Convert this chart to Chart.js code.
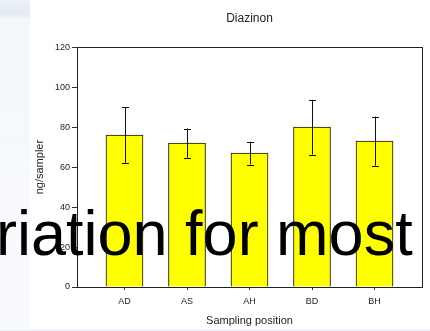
<!DOCTYPE html>
<html>
<head>
<meta charset="utf-8">
<script src="https://cdn.jsdelivr.net/npm/chart.js@4.4.1/dist/chart.umd.min.js"></script>
<style>
  html, body { margin: 0; padding: 0; background: #ffffff; }
  #wrap { position: relative; width: 430px; height: 331px; overflow: hidden; background: #ffffff; }
  #strip { position: absolute; left: 0; top: 0; width: 30px; height: 331px;
           background: linear-gradient(to bottom, #f3f7fc 0%, #f7f9fd 60%, #f9fafd 100%); }
  #swoosh { position: absolute; left: 0; top: 0; width: 30px; height: 18px;
            background: linear-gradient(to bottom, #eef2f7 0%, #e3eaf2 70%, #eef3f8 100%); }
  #bottomline { position: absolute; left: 0; top: 329px; width: 430px; height: 2px; background: #f0f3f7; }
  canvas { position: absolute; left: 0; top: 0; }
  #overlay { position: absolute; left: -4px; top: 0; height: 331px; pointer-events: none;
             font-family: "Liberation Sans", Arial, sans-serif; font-size: 63px; color: #000;
             white-space: nowrap; line-height: 1; }
  #overlay span { position: absolute; left: 0; top: 202px; }
</style>
</head>
<body>
<div id="wrap">
  <div id="strip"></div>
  <div id="swoosh"></div>
  <div id="bottomline"></div>
  <canvas id="c" width="430" height="331"></canvas>
  <div id="overlay"><span>riation for most</span></div>
</div>
<script>
const categories = ['AD', 'AS', 'AH', 'BD', 'BH'];
const means = [76, 72, 67, 80, 73];
const errors = [14, 7.3, 5.7, 13.7, 12.3];
const yTicks = [0, 20, 40, 60, 80, 100, 120];

const FONT = '"Liberation Sans", Arial, sans-serif';

const frame = {
  id: 'frame',
  afterDatasetsDraw(chart) {
    const {ctx, chartArea: a, scales: {x, y}} = chart;
    ctx.save();
    ctx.strokeStyle = '#111';
    ctx.lineWidth = 1;
    means.forEach((m, i) => {
      const px = Math.round(x.getPixelForValue(i)) + 0.5;
      const top = y.getPixelForValue(m + errors[i]);
      const bot = y.getPixelForValue(m - errors[i]);
      ctx.beginPath();
      ctx.moveTo(px, top); ctx.lineTo(px, bot);
      ctx.moveTo(px - 3.5, Math.round(top) + 0.5); ctx.lineTo(px + 3.5, Math.round(top) + 0.5);
      ctx.moveTo(px - 3.5, Math.round(bot) + 0.5); ctx.lineTo(px + 3.5, Math.round(bot) + 0.5);
      ctx.stroke();
    });
    ctx.strokeStyle = '#222';
    ctx.strokeRect(Math.round(a.left) + 0.5, Math.round(a.top) + 0.5,
                   Math.round(a.right - a.left), Math.round(a.bottom - a.top));
    ctx.restore();
  }
};

new Chart(document.getElementById('c'), {
  type: 'bar',
  data: {
    datasets: [{
      data: means.map((v, i) => ({x: i, y: v})),
      backgroundColor: '#ffff00',
      borderColor: '#111',
      borderWidth: 1,
      barThickness: 37
    }]
  },
  options: {
    responsive: false,
    animation: false,
    layout: { padding: { left: 0, right: 8, top: 0, bottom: 0 } },
    plugins: {
      legend: { display: false },
      tooltip: { enabled: false },
      title: {
        display: true,
        fullSize: false,
        text: 'Diazinon',
        color: '#222',
        font: { family: FONT, size: 12, weight: 'normal' },
        padding: { top: 11.5, bottom: 21.3 }
      }
    },
    scales: {
      x: {
        type: 'linear',
        offset: false,
        min: -0.76,
        max: 4.76,
        afterBuildTicks: s => { s.ticks = categories.map((_, i) => ({value: i})); },
        afterFit: s => { s.height = 44; },
        ticks: {
          callback: v => categories[v] ?? '',
          color: '#222',
          font: { family: FONT, size: 9 },
          padding: 6,
          maxRotation: 0,
          autoSkip: false
        },
        grid: { offset: false, drawOnChartArea: false, drawTicks: true, tickLength: 3, color: '#333' },
        border: { display: true, color: '#111' },
        title: {
          display: true,
          text: 'Sampling position',
          color: '#222',
          font: { family: FONT, size: 11 },
          padding: { top: 6, bottom: 3 }
        }
      },
      y: {
        min: 0,
        max: 120,
        afterBuildTicks: s => { s.ticks = yTicks.map(v => ({value: v})); },
        afterFit: s => { s.width = 77; },
        ticks: {
          color: '#222',
          font: { family: FONT, size: 9 },
          padding: 2
        },
        grid: { drawOnChartArea: false, drawTicks: true, tickLength: 5, color: '#333' },
        border: { display: true, color: '#111' },
        title: {
          display: true,
          text: 'ng/sampler',
          color: '#222',
          font: { family: FONT, size: 11 },
          padding: { top: 33, bottom: 0 }
        }
      }
    }
  },
  plugins: [frame]
});
</script>
</body>
</html>
